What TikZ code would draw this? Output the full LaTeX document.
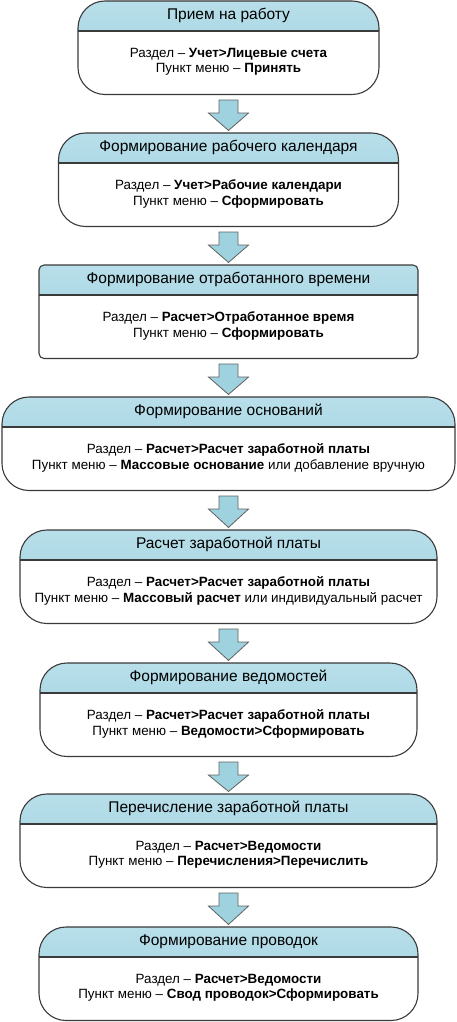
\documentclass[tikz,border=0pt]{standalone}
\usepackage{fontspec}
\setmainfont{Liberation Sans}
\usetikzlibrary{calc}
\definecolor{headtop}{HTML}{B8DFEA}
\definecolor{headbot}{HTML}{98CEDC}
\definecolor{arrowfill}{HTML}{9ED2DF}
\definecolor{edge}{HTML}{3A3A3A}

\begin{document}
\begin{tikzpicture}[x=1pt, y=1pt,
  stage/.style={draw=edge, line width=1.1pt, rounded corners=27pt,
    minimum height=93.5pt, inner sep=0pt,
    path picture={
      \shade[sharp corners, top color=headtop, bottom color=headbot]
        (path picture bounding box.north west) rectangle
        ([yshift=-30pt]path picture bounding box.north east);
      \draw[sharp corners, edge, line width=1.1pt]
        ([yshift=-30pt]path picture bounding box.north west) --
        ([yshift=-30pt]path picture bounding box.north east);
    }},
  title/.style={font=\fontsize{15.5}{18}\selectfont},
  body/.style={align=center, font=\fontsize{13.4}{15.5}\selectfont},
  flowarrow/.style={draw=edge!80, line width=0.8pt, fill=arrowfill}]
\useasboundingbox (0,0) rectangle (456,-1022);

% Stage boxes
\node[stage, minimum width=301pt] (b1) at (228.5,-47.75) {};
\node[stage, minimum width=340pt] (b2) at (228.5,-179.75) {};
\node[stage, minimum width=379pt, rounded corners=5pt] (b3) at (228.5,-311.75) {};
\node[stage, minimum width=453pt] (b4) at (228.5,-443.75) {};
\node[stage, minimum width=417pt] (b5) at (228.5,-576.75) {};
\node[stage, minimum width=377pt] (b6) at (228.5,-709.75) {};
\node[stage, minimum width=417pt] (b7) at (228.5,-840.75) {};
\node[stage, minimum width=379pt] (b8) at (228.5,-973.75) {};

% Headings
\node[title] (t1) at ([yshift=-15pt]b1.north) {Прием на работу};
\node[title] (t2) at ([yshift=-15pt]b2.north) {Формирование рабочего календаря};
\node[title] (t3) at ([yshift=-15pt]b3.north) {Формирование отработанного времени};
\node[title] (t4) at ([yshift=-15pt]b4.north) {Формирование оснований};
\node[title] (t5) at ([yshift=-15pt]b5.north) {Расчет заработной платы};
\node[title] (t6) at ([yshift=-15pt]b6.north) {Формирование ведомостей};
\node[title] (t7) at ([yshift=-15pt]b7.north) {Перечисление заработной платы};
\node[title] (t8) at ([yshift=-15pt]b8.north) {Формирование проводок};

% Menu paths
\node[body] (d1) at ([yshift=-14pt]b1.center) {Раздел – \textbf{Учет>Лицевые счета}\\Пункт меню – \textbf{Принять}};
\node[body] (d2) at ([yshift=-14pt]b2.center) {Раздел – \textbf{Учет>Рабочие календари}\\Пункт меню – \textbf{Сформировать}};
\node[body] (d3) at ([yshift=-14pt]b3.center) {Раздел – \textbf{Расчет>Отработанное время}\\Пункт меню – \textbf{Сформировать}};
\node[body] (d4) at ([yshift=-14pt]b4.center) {Раздел – \textbf{Расчет>Расчет заработной платы}\\Пункт меню – \textbf{Массовые основание} или добавление вручную};
\node[body] (d5) at ([yshift=-14pt]b5.center) {Раздел – \textbf{Расчет>Расчет заработной платы}\\Пункт меню – \textbf{Массовый расчет} или индивидуальный расчет};
\node[body] (d6) at ([yshift=-14pt]b6.center) {Раздел – \textbf{Расчет>Расчет заработной платы}\\Пункт меню – \textbf{Ведомости>Сформировать}};
\node[body] (d7) at ([yshift=-14pt]b7.center) {Раздел – \textbf{Расчет>Ведомости}\\Пункт меню – \textbf{Перечисления>Перечислить}};
\node[body] (d8) at ([yshift=-14pt]b8.center) {Раздел – \textbf{Расчет>Ведомости}\\Пункт меню – \textbf{Свод проводок>Сформировать}};

% Block arrows between stages
\foreach \p/\q in {b1/b2, b2/b3, b3/b4, b4/b5, b5/b6, b6/b7, b7/b8}
  \draw[flowarrow] ($(\p.south)+(-9.5,-5)$) -- ($(\p.south)+(9.5,-5)$)
    -- ($(\p.south)+(9.5,-18)$) -- ($(\p.south)+(20,-18)$)
    -- ($(\q.north)+(0,2)$) -- ($(\p.south)+(-20,-18)$)
    -- ($(\p.south)+(-9.5,-18)$) -- cycle;

\end{tikzpicture}
\end{document}
